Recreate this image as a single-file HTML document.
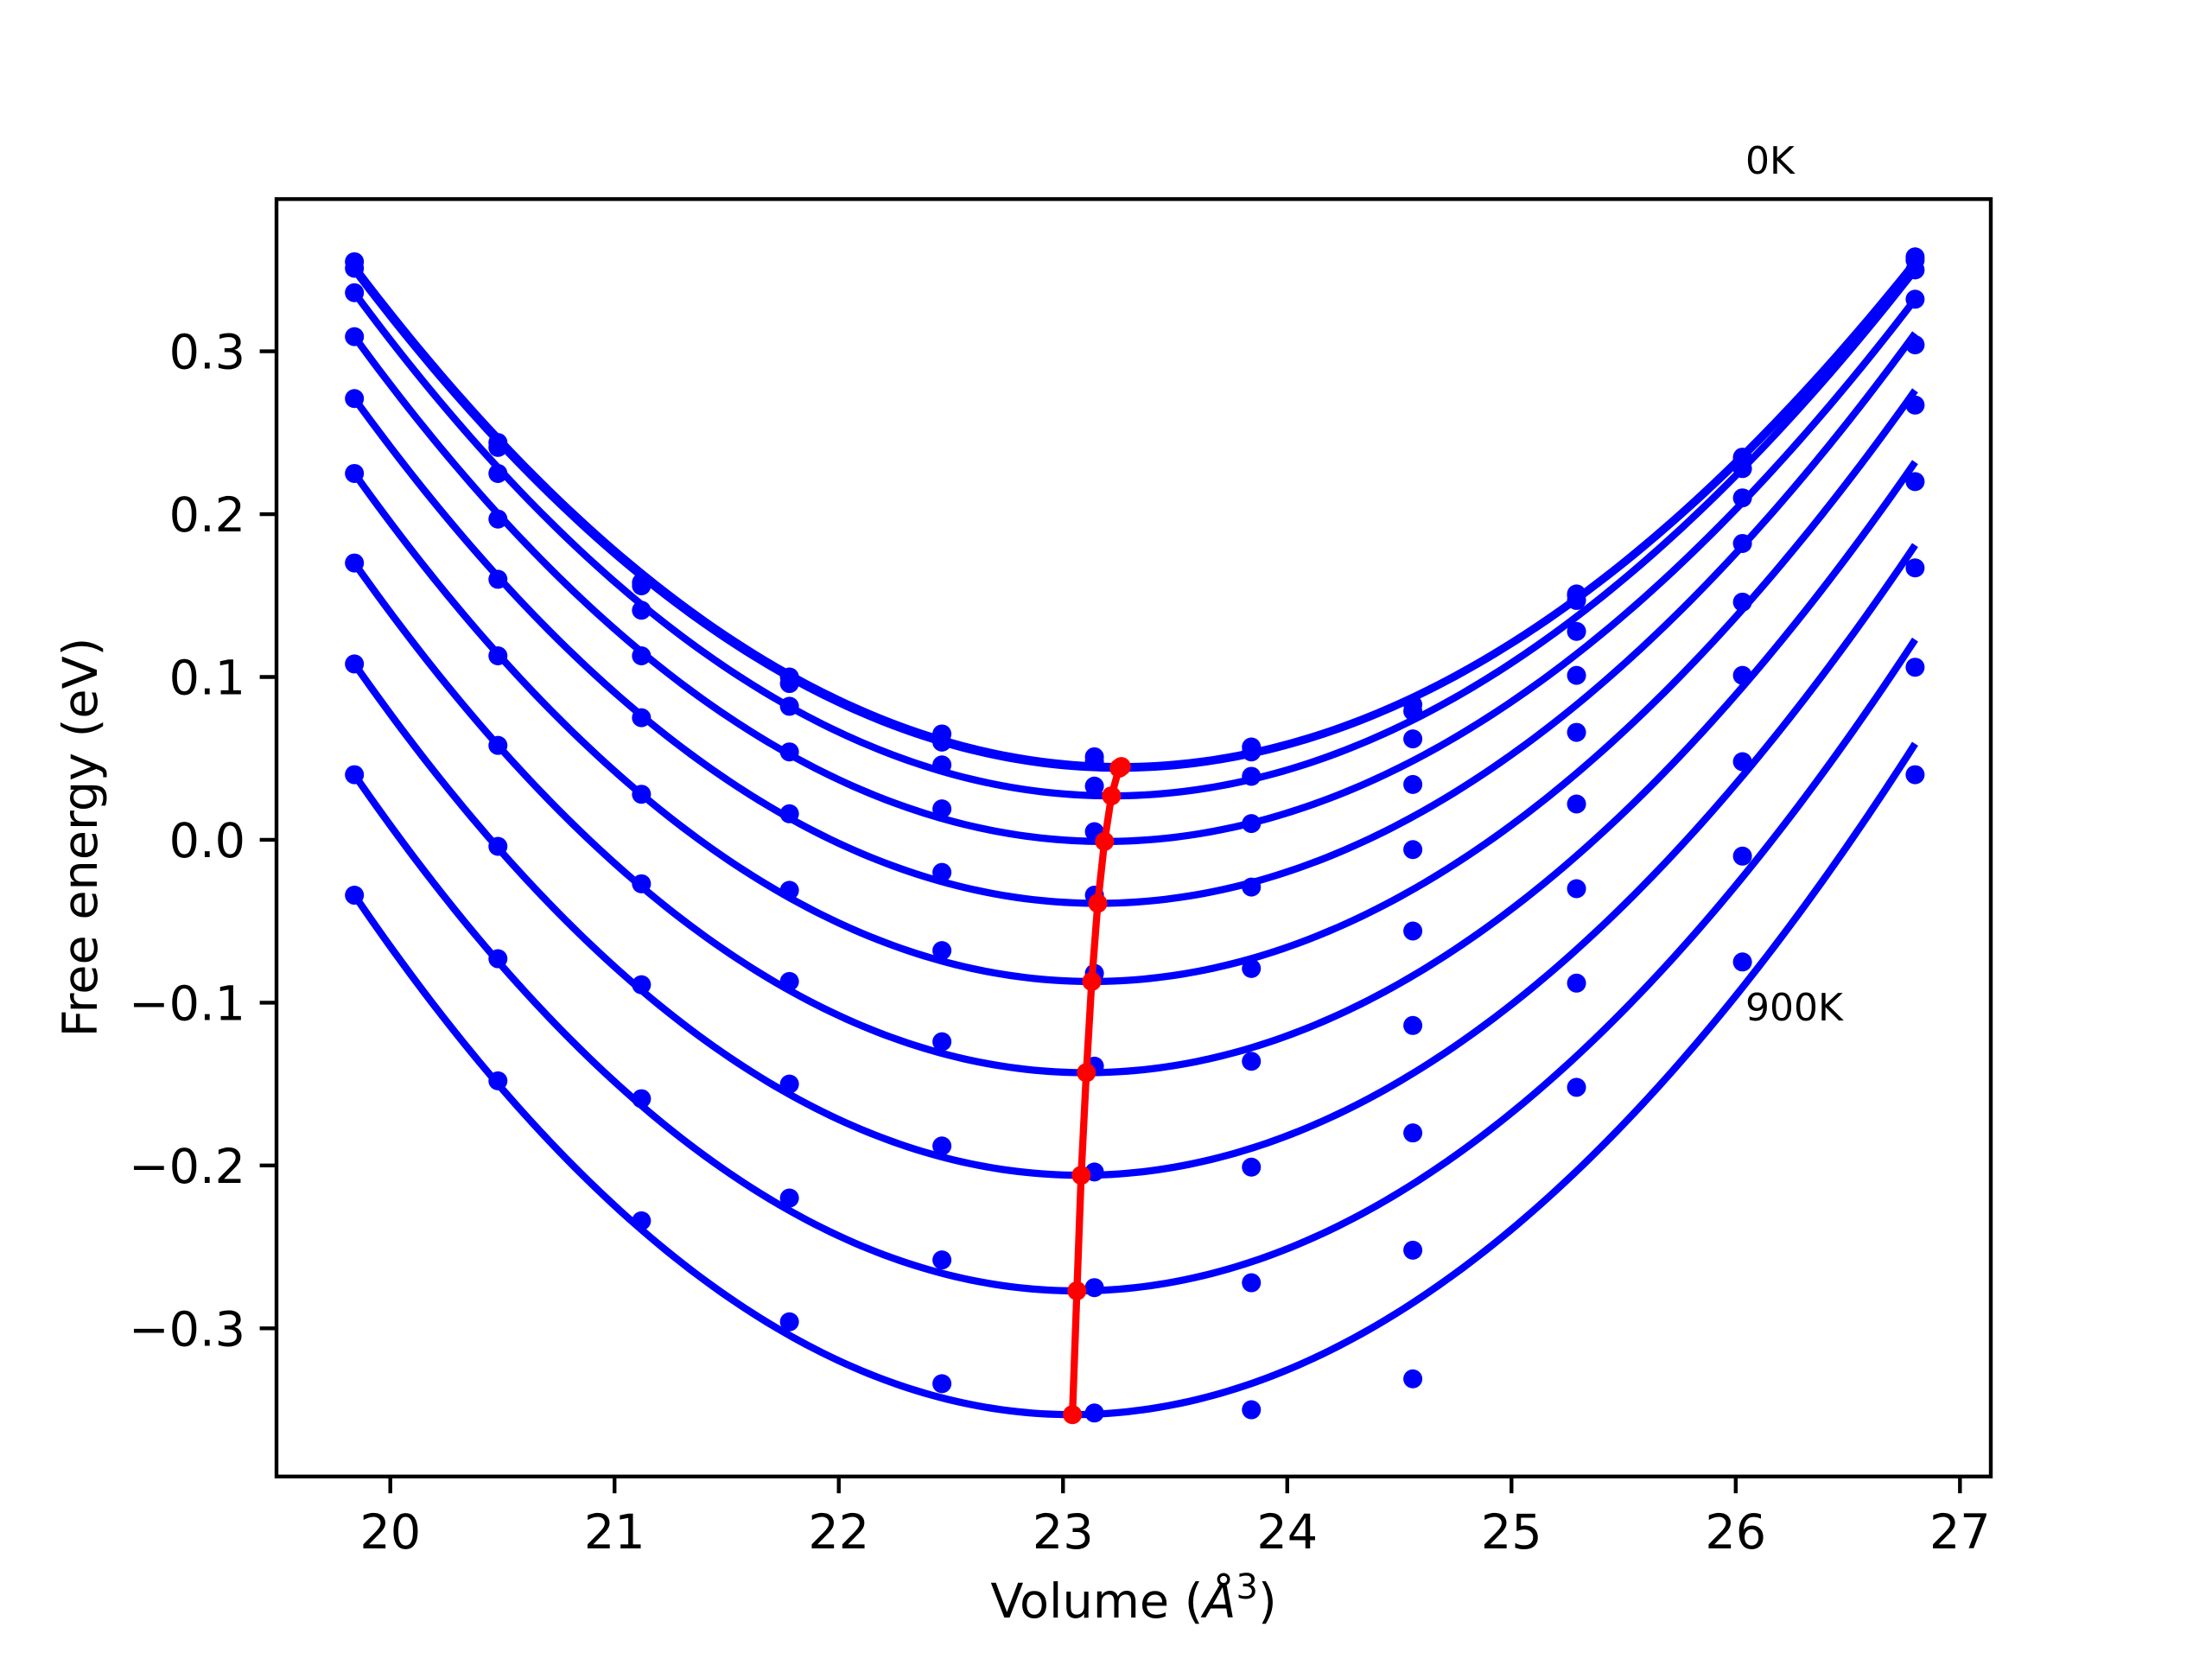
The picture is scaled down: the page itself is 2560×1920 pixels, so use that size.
<!DOCTYPE html>
<html><head><meta charset="utf-8"><style>
html,body{margin:0;padding:0;background:#fff;}
svg{display:block;font-family:"DejaVu Sans","Liberation Sans",sans-serif;}
</style></head><body>
<svg id="chart" width="2560" height="1920" viewBox="0 0 2560 1920" xmlns="http://www.w3.org/2000/svg">
<rect x="0" y="0" width="2560" height="1920" fill="#fff"/>
<g id="plot"></g>
<g id="axes"></g>
<text x="2020" y="201" font-size="44">0K</text>
<text x="2020" y="1181" font-size="44">900K</text>
<text x="1312" y="1872" font-size="55.6" text-anchor="middle">Volume (<tspan font-style="italic">Å</tspan><tspan font-size="40" dy="-22">3</tspan><tspan dy="22">)</tspan></text>
<text transform="translate(112,969) rotate(-90)" font-size="55.6" text-anchor="middle">Free energy (eV)</text>
</svg>
<script>
const volumes = [19.84, 20.48, 21.12, 21.78, 22.46, 23.14, 23.84, 24.56, 25.29, 26.03, 26.80];
const temps = ['0K','100K','200K','300K','400K','500K','600K','700K','800K','900K'];
// dot energies per volume column (top to bottom = 0K..900K)
const col0 = [0.355,0.351,0.336,0.309,0.271,0.225,0.170,0.108,0.040,-0.034];
const col1 = [0.244,0.241,0.225,0.197,0.160,0.113,0.058,-0.004,-0.073,-0.148];
const col2 = [0.158,0.156,0.141,0.113,0.075,0.028,-0.027,-0.089,-0.159,-0.234];
const col3 = [0.100,0.096,0.082,0.054,0.016,-0.031,-0.087,-0.150,-0.220,-0.296];
const col4 = [0.065,0.060,0.046,0.019,-0.020,-0.068,-0.124,-0.188,-0.258,-0.334];
const col5 = [0.051,0.048,0.033,0.005,-0.034,-0.082,-0.139,-0.204,-0.275,-0.352];
const col6 = [0.057,0.054,0.039,0.010,-0.029,-0.079,-0.136,-0.201,-0.272,-0.350];
const col7 = [0.083,0.079,0.062,0.034,-0.006,-0.056,-0.114,-0.180,-0.252,-0.331];
const col8 = [0.151,0.150,0.147,0.128,0.101,0.066,0.022,-0.030,-0.088,-0.152];
const col9 = [0.235,0.234,0.228,0.210,0.182,0.146,0.101,0.048,-0.010,-0.075];
const col10 = [0.358,0.356,0.350,0.332,0.304,0.267,0.220,0.167,0.106,0.040];
// fitted curves: minimum volume, minimum energy, end values
const fitV0 = [23.26,23.25,23.216,23.185,23.155,23.128,23.104,23.081,23.062,23.042];
const fitE0 = [0.045,0.044,0.027,-0.001,-0.039,-0.087,-0.143,-0.206,-0.277,-0.353];
const fitLeft = [0.352,0.350,0.336,0.309,0.271,0.225,0.170,0.108,0.040,-0.034];
const fitRight = [0.355,0.353,0.350,0.332,0.311,0.276,0.232,0.181,0.123,0.059];
const xTicks = [20,21,22,23,24,25,26,27];
const yTicks = [-0.3,-0.2,-0.1,0.0,0.1,0.2,0.3];
const yTickLabels = ['\u22120.3','\u22120.2','\u22120.1','0.0','0.1','0.2','0.3'];

const L=320,R=2304,T=230.4,B=1708.8;
const xmin=19.4925,xmax=27.1375,ymin=-0.391,ymax=0.3935;
const X=v=>L+(v-xmin)/(xmax-xmin)*(R-L);
const Y=e=>B-(e-ymin)/(ymax-ymin)*(B-T);
const NS='http://www.w3.org/2000/svg';
const plot=document.getElementById('plot'), axes=document.getElementById('axes');
function mk(tag,attrs,parent){const el=document.createElementNS(NS,tag);for(const k in attrs)el.setAttribute(k,attrs[k]);parent.appendChild(el);return el;}

const cols=[col0,col1,col2,col3,col4,col5,col6,col7,col8,col9,col10];
const vL=volumes[0], vR=volumes[volumes.length-1];
for(let i=0;i<temps.length;i++){
  const dL=vL-fitV0[i], dR=vR-fitV0[i];
  const pL=fitLeft[i]-fitE0[i], pR=fitRight[i]-fitE0[i];
  // a d^2 + b d^3 = p
  const det=dL*dL*dR*dR*dR - dL*dL*dL*dR*dR;
  const a=(pL*dR*dR*dR - dL*dL*dL*pR)/det;
  const b=(dL*dL*pR - pL*dR*dR)/det;
  let d='';
  for(let k=0;k<=200;k++){
    const v=vL+(vR-vL)*k/200, dd=v-fitV0[i];
    const e=fitE0[i]+a*dd*dd+b*dd*dd*dd;
    d+=(k?'L':'M')+X(v).toFixed(2)+','+Y(e).toFixed(2);
  }
  const p=mk('path',{d:d,fill:'none',stroke:'#0000ff','stroke-width':8.3,'stroke-linejoin':'round'},plot);
  
  
}
for(let j=0;j<volumes.length;j++){
  for(let i=0;i<temps.length;i++){
    const c=mk('circle',{cx:X(volumes[j]),cy:Y(cols[j][i]),r:11,fill:'#0000ff'},plot);
    
    
  }
}
let rd='';
for(let i=0;i<temps.length;i++) rd+=(i?'L':'M')+X(fitV0[i])+','+Y(fitE0[i]);
const rl=mk('path',{d:rd,fill:'none',stroke:'#ff0000','stroke-width':8.3,'stroke-linejoin':'round'},plot);


for(let i=0;i<temps.length;i++){
  const c=mk('circle',{cx:X(fitV0[i]),cy:Y(fitE0[i]),r:11,fill:'#ff0000'},plot);
  
  
}
const fr=mk('rect',{x:L,y:T,width:R-L,height:B-T,fill:'none',stroke:'#000','stroke-width':4.4},axes);


xTicks.forEach(t=>{
  const x=X(t);
  const ln=mk('line',{x1:x,x2:x,y1:B,y2:B+19.4,stroke:'#000','stroke-width':4.4},axes);
  
  
  const tx=mk('text',{x:x,y:B+83,'font-size':55.6,'text-anchor':'middle'},axes);
  tx.textContent=String(t);
  
  
});
yTicks.forEach((t,i)=>{
  const y=Y(t);
  const ln=mk('line',{x1:L-19.4,x2:L,y1:y,y2:y,stroke:'#000','stroke-width':4.4},axes);
  
  
  const tx=mk('text',{x:L-36,y:y+20,'font-size':55.6,'text-anchor':'end'},axes);
  tx.textContent=yTickLabels[i];
  
  
});
</script>
</body></html>
